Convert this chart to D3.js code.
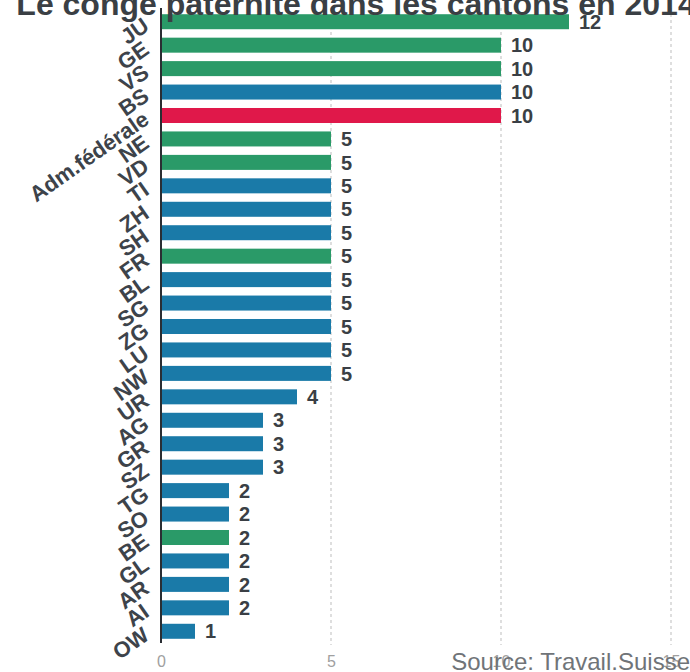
<!DOCTYPE html>
<html><head><meta charset="utf-8">
<script src="https://cdn.jsdelivr.net/npm/d3@7"></script>
<style>body{margin:0;background:#fff;}svg{display:block;}</style>
</head><body>
<svg id="c" width="690" height="672"></svg>
<script>
const categories = ["JU","GE","VS","BS","Adm.fédérale","NE","VD","TI","ZH","SH","FR","BL","SG","ZG","LU","NW","UR","AG","GR","SZ","TG","SO","BE","GL","AR","AI","OW"];
const values = [12,10,10,10,10,5,5,5,5,5,5,5,5,5,5,5,4,3,3,3,2,2,2,2,2,2,1];
const groups = ["g","g","g","b","r","g","g","b","b","b","g","b","b","b","b","b","b","b","b","b","b","b","g","b","b","b","b"];
const tickValues = [0,5,10,15];
const title = "Le congé paternité dans les cantons en 2014";
const source = "Source: Travail.Suisse";

const colors = {g:"#2a9a68", b:"#1a7aa8", r:"#e0184a"};
const font = "Liberation Sans, Arial, sans-serif";
const svg = d3.select("#c");
const x = d3.scaleLinear().domain([0,15]).range([161,671]);
const y = d3.scaleBand().domain(categories).range([10,643]).paddingInner(0.36).paddingOuter(0.18);

// gridlines
svg.append("g").selectAll("line").data(tickValues.filter(d=>d>0)).join("line")
  .attr("x1",d=>x(d)).attr("x2",d=>x(d)).attr("y1",8).attr("y2",645)
  .attr("stroke","#c8c8c8").attr("stroke-width",1.2).attr("stroke-dasharray","3,3");

// bars
const data = categories.map((c,i)=>({c, v:values[i], g:groups[i]}));
svg.append("g").selectAll("rect").data(data).join("rect")
  .attr("x",x(0)).attr("y",d=>y(d.c)).attr("width",d=>x(d.v)-x(0)).attr("height",y.bandwidth())
  .attr("fill",d=>colors[d.g]);

// value labels
svg.append("g").selectAll("text").data(data).join("text")
  .attr("x",d=>x(d.v)+10).attr("y",d=>y(d.c)+y.bandwidth()/2).attr("dy","0.36em")
  .attr("font-family",font).attr("font-weight","bold")
  .attr("font-size",20).attr("fill","#3a3f45").text(d=>d.v);

// category labels rotated
svg.append("g").selectAll("text").data(data).join("text")
  .attr("transform",d=>`translate(146,${y(d.c)+y.bandwidth()/2+1}) rotate(-35)`)
  .attr("text-anchor","end").attr("dy","0.35em")
  .attr("font-family",font).attr("font-weight","bold")
  .attr("font-size",22).attr("fill","#3d434a").text(d=>d.c);

// axis line
svg.append("line").attr("x1",x(0)).attr("x2",x(0)).attr("y1",8).attr("y2",643)
  .attr("stroke","#2a2e33").attr("stroke-width",2);

// x tick labels
const xAxis = d3.axisBottom(x).tickValues(tickValues).tickSize(0).tickPadding(0);
const ax = svg.append("g").attr("transform","translate(0,656)").call(xAxis);
ax.select(".domain").remove();
ax.selectAll("text").attr("font-family",font)
  .attr("font-size",16).attr("fill","#a0a0a0");

// source
svg.append("text").attr("x",690).attr("y",670).attr("text-anchor","end")
  .attr("font-family",font).attr("font-size",24)
  .attr("fill","#707478").text(source);

// title
svg.append("text").attr("x",356).attr("y",15).attr("text-anchor","middle")
  .attr("font-family",font).attr("font-weight","bold")
  .attr("font-size",32).attr("fill","#3a3f44").text(title);
</script>
</body></html>
